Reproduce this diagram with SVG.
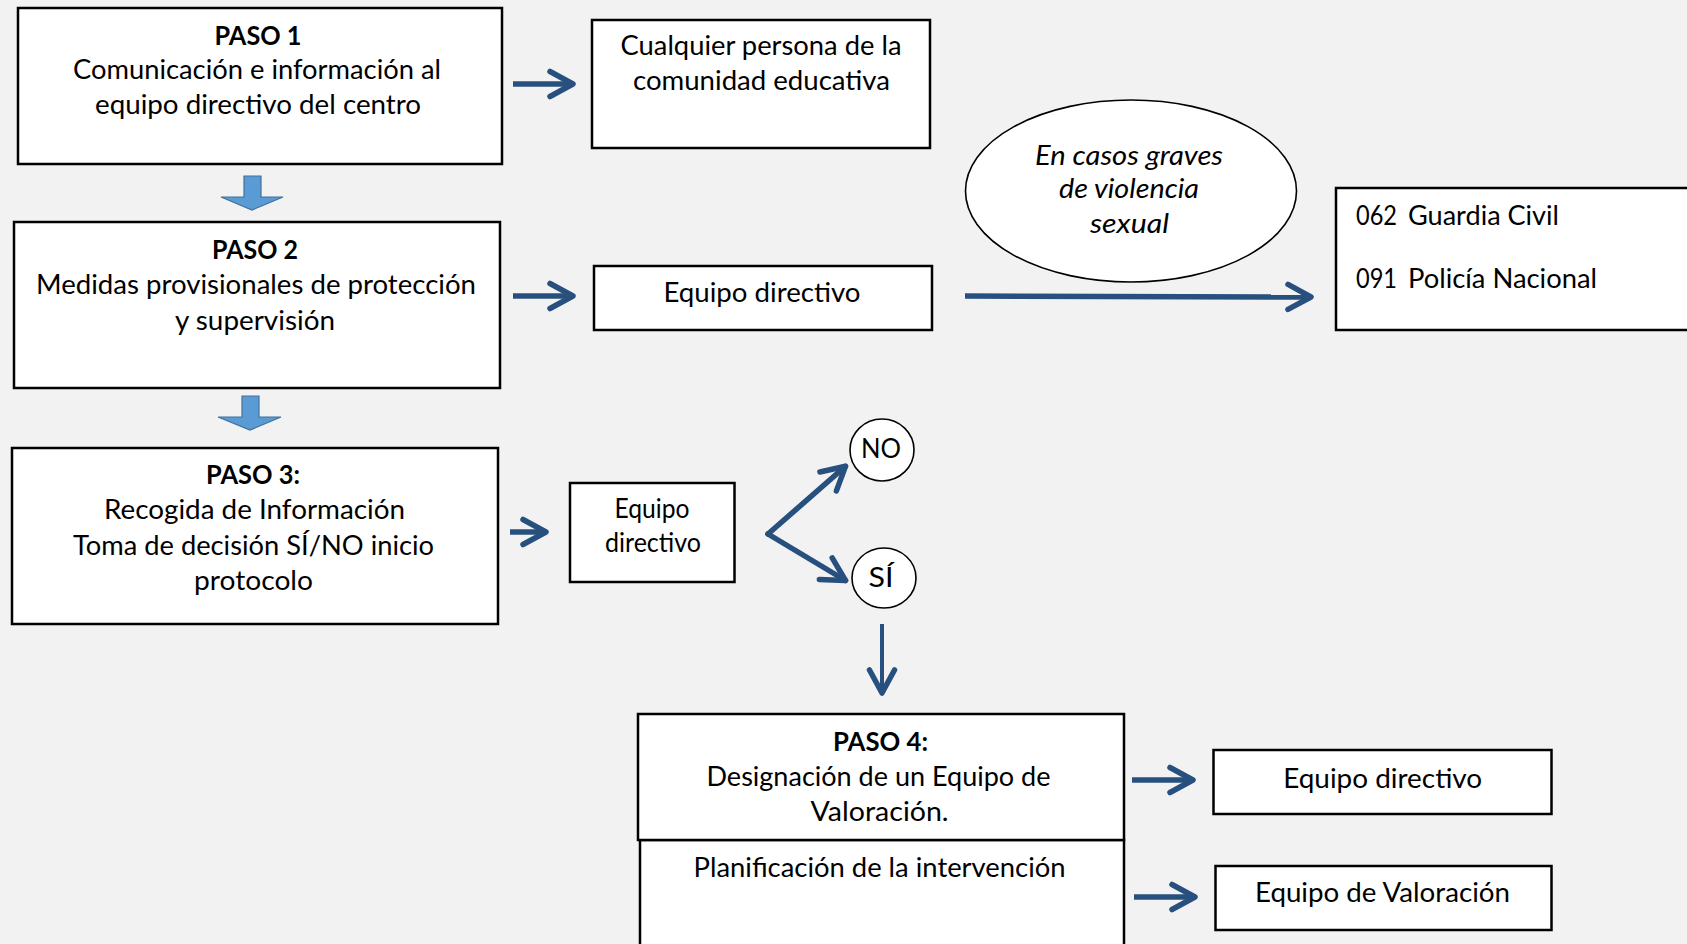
<svg xmlns="http://www.w3.org/2000/svg" width="1687" height="944" viewBox="0 0 1687 944">
<style>
.bg{fill:#F2F2F2}
.box{fill:#FFFFFF;stroke:#000000;stroke-width:2.5}
.oval{fill:#FFFFFF;stroke:#000000;stroke-width:1.6}
.t{font-family:Lato,"Liberation Sans",sans-serif;font-size:27px;fill:#000000;text-anchor:middle}
.b{font-weight:bold}
.i{font-style:italic}
.s{text-anchor:start}
.con{fill:none;stroke:#27507E;stroke-width:5.5;marker-end:url(#chev)}
.thin{stroke-width:4}
.blk{fill:#5B9BD5;stroke:#41719C;stroke-width:1.2}
</style>
<defs>
<marker id="chev" markerUnits="userSpaceOnUse" viewBox="-30 -16 36 32" refX="0" refY="0" markerWidth="36" markerHeight="32" orient="auto">
<path d="M-23,-12.5 L0,0 L-23,12.5" fill="none" stroke="#27507E" stroke-width="5.5" stroke-linecap="round" stroke-linejoin="round"/>
</marker>
</defs>
<rect class="bg" x="0" y="0" width="1687" height="944"/>

<g id="paso1">
<rect class="box" x="18" y="8" width="484" height="156"/>
<text class="t b" x="258" y="45" textLength="87" lengthAdjust="spacingAndGlyphs">PASO 1</text>
<text class="t" x="257" y="79" textLength="368" lengthAdjust="spacingAndGlyphs">Comunicación e información al</text>
<text class="t" x="258" y="114" textLength="326" lengthAdjust="spacingAndGlyphs">equipo directivo del centro</text>
</g>

<g id="cualquier">
<rect class="box" x="592" y="20" width="338" height="128"/>
<text class="t" x="761" y="55" textLength="281" lengthAdjust="spacingAndGlyphs">Cualquier persona de la</text>
<text class="t" x="761.5" y="90" textLength="257" lengthAdjust="spacingAndGlyphs">comunidad educativa</text>
</g>

<g id="paso2">
<rect class="box" x="14" y="222" width="486" height="166"/>
<text class="t b" x="255" y="259" textLength="86" lengthAdjust="spacingAndGlyphs">PASO 2</text>
<text class="t" x="256" y="294" textLength="440" lengthAdjust="spacingAndGlyphs">Medidas provisionales de protección</text>
<text class="t" x="255" y="330" textLength="160" lengthAdjust="spacingAndGlyphs">y supervisión</text>
</g>

<g id="equipo1">
<rect class="box" x="594" y="266" width="338" height="64"/>
<text class="t" x="762" y="302" textLength="197" lengthAdjust="spacingAndGlyphs">Equipo directivo</text>
</g>

<g id="graves">
<ellipse class="oval" cx="1131" cy="191" rx="165.5" ry="91"/>
<text class="t i" x="1129" y="165" textLength="188" lengthAdjust="spacingAndGlyphs">En casos graves</text>
<text class="t i" x="1129" y="198" textLength="140" lengthAdjust="spacingAndGlyphs">de violencia</text>
<text class="t i" x="1129.5" y="233" textLength="79" lengthAdjust="spacingAndGlyphs">sexual</text>
</g>

<g id="policia">
<rect class="box" x="1336" y="188" width="370" height="142"/>
<text class="t s" x="1356" y="225" font-size="30" textLength="41" lengthAdjust="spacingAndGlyphs">062</text>
<text class="t s" x="1408" y="225" font-size="30" textLength="151" lengthAdjust="spacingAndGlyphs">Guardia Civil</text>
<text class="t s" x="1356" y="288" font-size="30" textLength="41" lengthAdjust="spacingAndGlyphs">091</text>
<text class="t s" x="1408" y="288" font-size="30" textLength="189" lengthAdjust="spacingAndGlyphs">Policía Nacional</text>
</g>

<g id="paso3">
<rect class="box" x="12" y="448" width="486" height="176"/>
<text class="t b" x="253" y="484" textLength="94" lengthAdjust="spacingAndGlyphs">PASO 3:</text>
<text class="t" x="254.5" y="519" textLength="301" lengthAdjust="spacingAndGlyphs">Recogida de Información</text>
<text class="t" x="253.5" y="555" textLength="361" lengthAdjust="spacingAndGlyphs">Toma de decisión SÍ/NO inicio</text>
<text class="t" x="253.5" y="590" textLength="119" lengthAdjust="spacingAndGlyphs">protocolo</text>
</g>

<g id="equipo2">
<rect class="box" x="570" y="483" width="164.5" height="99"/>
<text class="t" x="652" y="518" font-size="23" textLength="75" lengthAdjust="spacingAndGlyphs">Equipo</text>
<text class="t" x="653" y="552" font-size="23" textLength="96" lengthAdjust="spacingAndGlyphs">directivo</text>
</g>

<g id="no">
<ellipse class="oval" cx="882" cy="450" rx="32" ry="31"/>
<text class="t" x="881" y="458" textLength="40" lengthAdjust="spacingAndGlyphs">NO</text>
</g>

<g id="si">
<ellipse class="oval" cx="884" cy="578" rx="32" ry="30"/>
<text class="t" x="881" y="587" textLength="25" lengthAdjust="spacingAndGlyphs">SÍ</text>
</g>

<g id="paso4">
<rect class="box" x="640" y="840" width="484" height="130"/>
<rect class="box" x="638" y="714" width="486" height="126"/>
<text class="t b" x="880.5" y="751" textLength="95" lengthAdjust="spacingAndGlyphs">PASO 4:</text>
<text class="t" x="878.5" y="786" textLength="344" lengthAdjust="spacingAndGlyphs">Designación de un Equipo de</text>
<text class="t" x="879.6" y="821" textLength="138" lengthAdjust="spacingAndGlyphs">Valoración.</text>
<text class="t" x="879.6" y="877" textLength="372" lengthAdjust="spacingAndGlyphs">Planificación de la intervención</text>
</g>

<g id="equipo3">
<rect class="box" x="1213.5" y="750" width="338" height="64"/>
<text class="t" x="1382.7" y="788" textLength="199" lengthAdjust="spacingAndGlyphs">Equipo directivo</text>
</g>

<g id="valoracion">
<rect class="box" x="1215.5" y="866" width="336" height="64"/>
<text class="t" x="1382.5" y="902" textLength="255" lengthAdjust="spacingAndGlyphs">Equipo de Valoración</text>
</g>

<g id="connectors">
<polygon class="blk" points="244,176 261,176 261,197 283,197 252,210 221,197 244,197"/>
<polygon class="blk" points="242,396 259,396 259,417 281,417 250,430 218,417 242,417"/>
<line class="con" x1="513" y1="84" x2="573" y2="84"/>
<line class="con" x1="513" y1="296" x2="573" y2="296"/>
<line class="con" x1="965" y1="296" x2="1311" y2="297"/>
<line class="con" x1="510" y1="532" x2="546" y2="532"/>
<line class="con" x1="768" y1="534" x2="845.5" y2="580.5" stroke-linecap="round"/>
<line class="con" x1="768" y1="534" x2="845.5" y2="466.3" stroke-linecap="round"/>
<line class="con thin" x1="882" y1="624" x2="882" y2="693"/>
<line class="con" x1="1132" y1="780" x2="1193" y2="780"/>
<line class="con" x1="1134" y1="897" x2="1195" y2="897"/>
</g>
</svg>
